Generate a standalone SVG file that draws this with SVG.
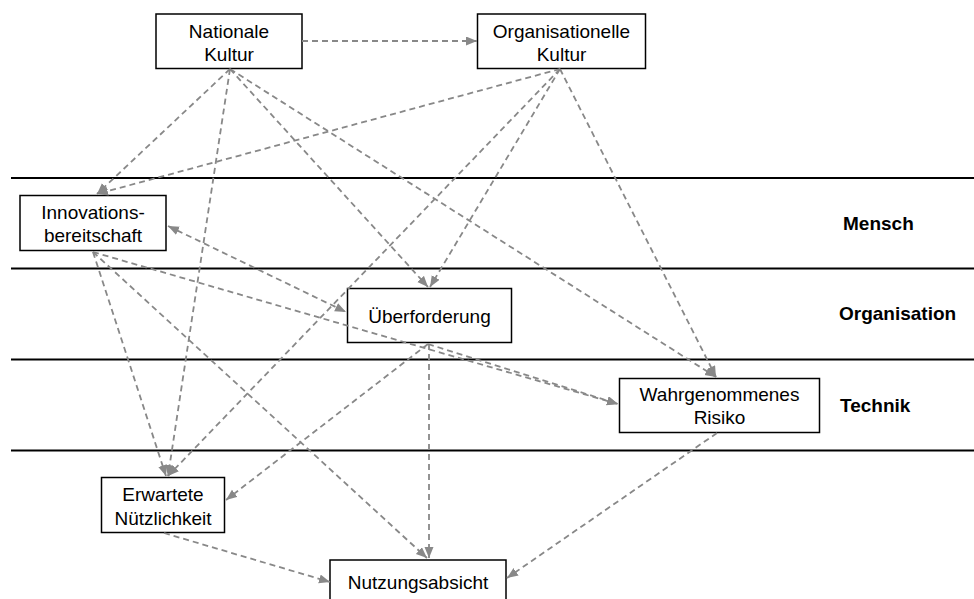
<svg xmlns="http://www.w3.org/2000/svg" width="974" height="599" viewBox="0 0 974 599">
<style>
.box{fill:#fff;stroke:#000;stroke-width:1.5}
.lbl{font-family:"Liberation Sans",Arial,Helvetica,sans-serif;font-size:19px;fill:#000;text-anchor:middle}
.lane{font-family:"Liberation Sans",Arial,Helvetica,sans-serif;font-size:19px;font-weight:bold;fill:#000}
.sep{stroke:#000;stroke-width:2}
.c{fill:none;stroke:#888;stroke-width:1.8;stroke-dasharray:6,4;marker-end:url(#ah)}
.both{marker-start:url(#ahs)}
</style>
<defs>
<marker id="ah" markerUnits="userSpaceOnUse" markerWidth="12" markerHeight="10" refX="11" refY="4.5" orient="auto"><path d="M0,0 L11,4.5 L0,9 z" fill="#888"/></marker>
<marker id="ahs" markerUnits="userSpaceOnUse" markerWidth="12" markerHeight="10" refX="11" refY="4.5" orient="auto-start-reverse"><path d="M0,0 L11,4.5 L0,9 z" fill="#888"/></marker>
</defs>
<rect width="974" height="599" fill="#fff"/>
<g id="lanes">
<line class="sep" x1="11" y1="178" x2="974" y2="178"/>
<line class="sep" x1="11" y1="268.5" x2="974" y2="268.5"/>
<line class="sep" x1="11" y1="359.5" x2="974" y2="359.5"/>
<line class="sep" x1="11" y1="450.5" x2="974" y2="450.5"/>
<text class="lane" x="843" y="230">Mensch</text>
<text class="lane" x="839" y="319.5">Organisation</text>
<text class="lane" x="840" y="411.5">Technik</text>
</g>
<g id="n-nk"><rect class="box" x="156" y="14" width="146" height="54.5"/><text class="lbl" x="229" y="38">Nationale</text><text class="lbl" x="229" y="61">Kultur</text></g>
<g id="n-ok"><rect class="box" x="477.5" y="14" width="168" height="54.5"/><text class="lbl" x="561.5" y="38">Organisationelle</text><text class="lbl" x="561.5" y="61">Kultur</text></g>
<g id="n-ib"><rect class="box" x="20" y="195.5" width="146" height="55"/><text class="lbl" x="93" y="219">Innovations-</text><text class="lbl" x="93" y="242">bereitschaft</text></g>
<g id="n-uf"><rect class="box" x="347.5" y="288.5" width="164" height="54"/><text class="lbl" x="429.5" y="323">Überforderung</text></g>
<g id="n-wr"><rect class="box" x="619.5" y="378.5" width="200" height="54"/><text class="lbl" x="719.5" y="401">Wahrgenommenes</text><text class="lbl" x="719.5" y="424">Risiko</text></g>
<g id="n-en"><rect class="box" x="101.5" y="477.5" width="123" height="55"/><text class="lbl" x="163" y="501">Erwartete</text><text class="lbl" x="163" y="525">Nützlichkeit</text></g>
<g id="n-na"><rect class="box" x="330" y="560" width="176" height="50"/><text class="lbl" x="418" y="589">Nutzungsabsicht</text></g>
<g id="connectors">
<path class="c" d="M302,41 L477,41"/>
<path class="c" d="M230,69 L97,194"/>
<path class="c" d="M230,69 L168,476"/>
<path class="c" d="M230,69 L428,287"/>
<path class="c" d="M230,69 L716,377"/>
<path class="c" d="M560,69 L97,194"/>
<path class="c" d="M560,69 L168,476"/>
<path class="c" d="M560,69 L430,287"/>
<path class="c" d="M560,69 L716,377"/>
<path class="c both" d="M168,226 L346,312"/>
<path class="c" d="M93,252 L618,404"/>
<path class="c" d="M93,252 L166,476"/>
<path class="c" d="M93,252 L427,558"/>
<path class="c" d="M428,344 L618,404"/>
<path class="c" d="M428,344 L226,500"/>
<path class="c" d="M429,344 L429,558"/>
<path class="c" d="M717,433 L507,578"/>
<path class="c" d="M164,533 L330,582"/>
</g>
</svg>
